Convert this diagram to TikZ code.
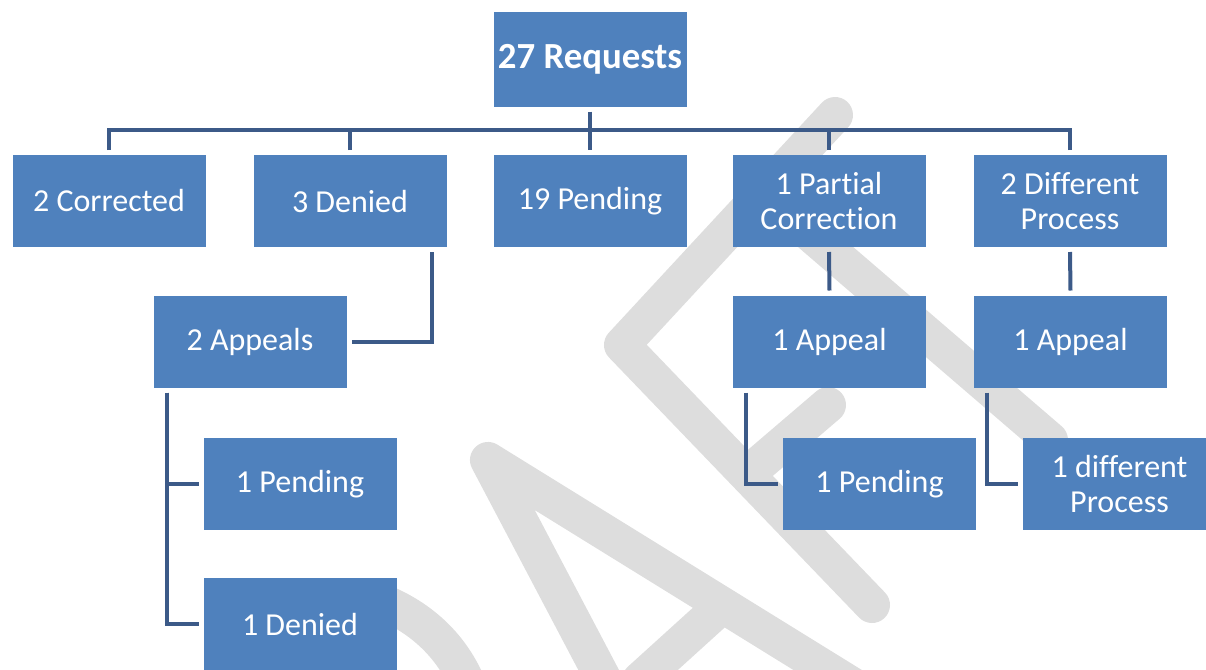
\documentclass[tikz,border=0pt]{standalone}
\usepackage{fontspec}
\setmainfont{Carlito}[Ligatures=NoCommon]
\usetikzlibrary{positioning}
\definecolor{boxblue}{HTML}{4F81BD}
\definecolor{lineblue}{HTML}{3C5A88}
\definecolor{wmgray}{HTML}{DDDDDD}

\begin{document}
\begin{tikzpicture}[x=0.5pt,y=-0.5pt,
  box/.style={fill=boxblue, text=white, minimum width=96.5pt, minimum height=46pt,
    inner sep=0pt, outer sep=2.5pt, align=center, font=\fontsize{16}{17.5}\selectfont},
  link/.style={draw=lineblue, line width=2pt},
  wm/.style={draw=wmgray, line width=18pt, line cap=round, line join=round}]
\useasboundingbox (0,0) rectangle (1206,670);

% watermark
\draw[wm] (385,603) .. controls (425,620) and (455,650) .. (470,690);
\draw[wm] (625,720) -- (488,460) -- (860,690);
\draw[wm] (640,680) -- (715,612);
\draw[wm] (835,115) -- (622,345) -- (872,605);
\draw[wm] (752,470) -- (828,405);
\draw[wm] (800,225) -- (1050,440);

% boxes
\node[box, font=\bfseries\fontsize{18.4}{20}\selectfont, minimum height=47.5pt] (req) at (590,59) {27 Requests};
\node[box] (corr) at (109,201) {2 Corrected};
\node[box] (den) at (350,201) {3 Denied};
\node[box] (pend) at (590,201) {19 Pending};
\node[box] (part) at (829,201) {1 Partial\\Correction};
\node[box] (diff) at (1070,201) {2 Different\\Process};

\node[box] (app) at (250,341.5) {2 Appeals};
\node[box] (appA) at (829.5,341.5) {1 Appeal};
\node[box] (appB) at (1070.5,341.5) {1 Appeal};

\node[box] (penA) at (300,484) {1 Pending};
\node[box] (denA) at (300,624) {1 Denied};
\node[box] (penB) at (879.5,484) {1 Pending};
\node[box] (dproc) at (1119.5,484) {1 different\\Process};

% connectors
\coordinate (bus) at (590,130);
\draw[link] (req.south) -- (pend.north);
\foreach \n in {corr,den,part,diff}
  \draw[link] (\n.north) |- (bus);
\draw[link] ([xshift=-10pt]den.south east) |- (app.east);
\draw[link] ([xshift=9pt]app.south west) |- (penA.west);
\draw[link] ([xshift=9pt]app.south west) |- (denA.west);
\draw[link] (part.south) -- (appA.north);
\draw[link] ([xshift=9pt]appA.south west) |- (penB.west);
\draw[link] (diff.south) -- (appB.north);
\draw[link] ([xshift=9pt]appB.south west) |- (dproc.west);
\end{tikzpicture}
\end{document}
